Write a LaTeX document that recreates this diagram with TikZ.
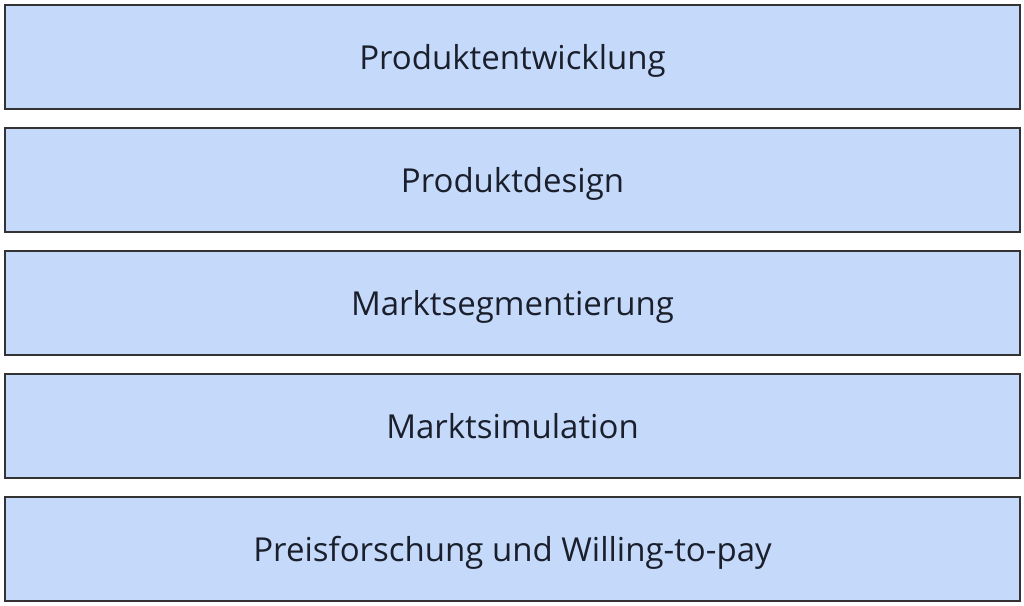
\documentclass[tikz,border=0pt]{standalone}
\usepackage{fontspec}
\setmainfont{Open Sans}
\usetikzlibrary{positioning}
\definecolor{boxfill}{HTML}{C5DAFB}
\definecolor{boxline}{HTML}{333333}
\definecolor{boxtext}{HTML}{1A1F2B}

\begin{document}
\begin{tikzpicture}[
  x=1pt, y=1pt,
  node distance=19pt,
  layer/.style={rectangle, draw=boxline, fill=boxfill, line width=1.5pt,
    minimum width=1015pt, minimum height=104pt, inner sep=0pt, outer sep=0pt,
    text height=24pt, text depth=0pt,
    text=boxtext, font=\fontsize{33}{38}\selectfont}
]
\useasboundingbox (0,0) rectangle (1024,-605);

% Layers (top to bottom)
\node[layer] (l5) at (512.5,-57) {Produktentwicklung};
\node[layer, below=of l5] (l4) {Produktdesign};
\node[layer, below=of l4] (l3) {Marktsegmentierung};
\node[layer, below=of l3] (l2) {Marktsimulation};
\node[layer, below=of l2] (l1) {Preisforschung und Willing-to-pay};

\end{tikzpicture}
\end{document}
